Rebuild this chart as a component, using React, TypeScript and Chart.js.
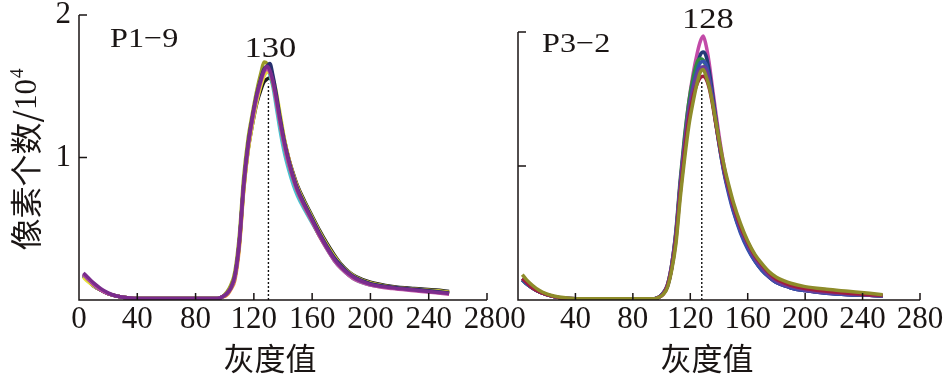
import React, { useEffect, useRef } from 'react';
import { Chart, registerables } from 'chart.js';

Chart.register(...registerables);

// Gray levels (x) sampled from the histograms
const GRAY = [3, 6, 10, 15, 20, 25, 30, 40, 60, 80, 95, 98, 101, 104, 107, 110, 113, 116, 119, 122, 125, 127, 129, 131, 133, 135, 138, 141, 144, 147, 150, 155, 160, 165, 170, 175, 180, 185, 190, 200, 215, 230, 245, 254];

const X_TICK_VALUES = [40, 80, 120, 160, 200, 240, 280];
const Y_TICK_VALUES = [1, 2];

// Panel P1-9 (pixel counts / 10^4)
const P19_PURPLE = [0.19, 0.16, 0.12, 0.08, 0.05, 0.03, 0.02, 0.01, 0.01, 0.01, 0.01, 0.02, 0.04, 0.08, 0.17, 0.40, 0.80, 1.08, 1.28, 1.44, 1.55, 1.61, 1.64, 1.61, 1.54, 1.44, 1.26, 1.10, 0.97, 0.86, 0.77, 0.66, 0.56, 0.46, 0.37, 0.29, 0.23, 0.185, 0.15, 0.11, 0.085, 0.07, 0.055, 0.045];
const P19_MAGENTA = [0.18, 0.15, 0.11, 0.07, 0.045, 0.03, 0.02, 0.01, 0.01, 0.01, 0.01, 0.02, 0.04, 0.08, 0.16, 0.40, 0.80, 1.07, 1.26, 1.42, 1.54, 1.60, 1.62, 1.60, 1.53, 1.42, 1.24, 1.08, 0.95, 0.85, 0.76, 0.65, 0.55, 0.45, 0.36, 0.28, 0.22, 0.175, 0.14, 0.105, 0.08, 0.065, 0.05, 0.04];
const P19_OLIVE = [0.18, 0.15, 0.11, 0.07, 0.045, 0.03, 0.02, 0.01, 0.01, 0.01, 0.01, 0.02, 0.05, 0.10, 0.20, 0.45, 0.86, 1.13, 1.31, 1.47, 1.60, 1.67, 1.66, 1.60, 1.52, 1.42, 1.24, 1.08, 0.95, 0.85, 0.76, 0.65, 0.55, 0.45, 0.37, 0.29, 0.23, 0.185, 0.15, 0.115, 0.09, 0.075, 0.06, 0.05];
const P19_NAVY = [0.18, 0.15, 0.11, 0.07, 0.045, 0.03, 0.02, 0.01, 0.01, 0.01, 0.01, 0.02, 0.04, 0.08, 0.17, 0.41, 0.81, 1.09, 1.28, 1.44, 1.56, 1.62, 1.64, 1.66, 1.58, 1.47, 1.28, 1.11, 0.98, 0.87, 0.78, 0.67, 0.57, 0.47, 0.38, 0.30, 0.24, 0.19, 0.155, 0.115, 0.09, 0.075, 0.06, 0.05];
const P19_BLACK = [0.17, 0.14, 0.10, 0.07, 0.045, 0.03, 0.02, 0.01, 0.01, 0.01, 0.01, 0.02, 0.04, 0.08, 0.16, 0.39, 0.78, 1.05, 1.23, 1.38, 1.48, 1.53, 1.55, 1.56, 1.52, 1.44, 1.28, 1.12, 0.99, 0.89, 0.80, 0.69, 0.59, 0.49, 0.40, 0.32, 0.25, 0.20, 0.165, 0.125, 0.095, 0.08, 0.07, 0.06];
const P19_CYAN = [0.17, 0.14, 0.10, 0.07, 0.045, 0.03, 0.02, 0.01, 0.01, 0.01, 0.01, 0.02, 0.04, 0.08, 0.17, 0.41, 0.80, 1.07, 1.26, 1.42, 1.54, 1.60, 1.62, 1.58, 1.50, 1.38, 1.19, 1.03, 0.91, 0.81, 0.73, 0.63, 0.54, 0.45, 0.36, 0.28, 0.22, 0.175, 0.14, 0.105, 0.085, 0.07, 0.06, 0.05];
const P19_YELLOW = [0.16, 0.13, 0.10, 0.07, 0.045, 0.03, 0.02, 0.01, 0.01, 0.01, 0.01, 0.02, 0.04, 0.08, 0.16, 0.38, 0.77, 1.04, 1.23, 1.39, 1.51, 1.57, 1.60, 1.60, 1.56, 1.48, 1.31, 1.13, 0.99, 0.88, 0.79, 0.68, 0.58, 0.48, 0.39, 0.31, 0.245, 0.195, 0.16, 0.12, 0.09, 0.075, 0.065, 0.055];
const P19_RED = [0.17, 0.14, 0.10, 0.07, 0.045, 0.03, 0.02, 0.01, 0.01, 0.01, 0.01, 0.02, 0.04, 0.08, 0.17, 0.40, 0.80, 1.08, 1.27, 1.43, 1.55, 1.61, 1.63, 1.61, 1.55, 1.45, 1.28, 1.12, 0.99, 0.88, 0.79, 0.67, 0.57, 0.47, 0.38, 0.30, 0.24, 0.19, 0.155, 0.115, 0.09, 0.075, 0.06, 0.05];
const P19_ORANGE = [0.17, 0.14, 0.10, 0.07, 0.045, 0.03, 0.02, 0.01, 0.01, 0.01, 0.01, 0.02, 0.03, 0.07, 0.14, 0.36, 0.76, 1.05, 1.25, 1.41, 1.53, 1.59, 1.62, 1.60, 1.53, 1.42, 1.24, 1.08, 0.95, 0.85, 0.76, 0.65, 0.55, 0.45, 0.36, 0.28, 0.22, 0.175, 0.14, 0.105, 0.085, 0.07, 0.055, 0.045];

// Panel P3-2
const P32_OLIVE = [0.19, 0.15, 0.11, 0.07, 0.045, 0.03, 0.02, 0.01, 0.01, 0.01, 0.01, 0.02, 0.04, 0.09, 0.22, 0.42, 0.76, 1.05, 1.30, 1.48, 1.63, 1.70, 1.72, 1.67, 1.60, 1.50, 1.32, 1.14, 0.98, 0.85, 0.73, 0.57, 0.44, 0.34, 0.27, 0.21, 0.17, 0.145, 0.125, 0.10, 0.08, 0.065, 0.05, 0.04];
const P32_CRIMSON = [0.16, 0.13, 0.09, 0.06, 0.04, 0.025, 0.015, 0.01, 0.01, 0.01, 0.01, 0.02, 0.04, 0.10, 0.23, 0.45, 0.80, 1.10, 1.35, 1.52, 1.62, 1.66, 1.67, 1.65, 1.59, 1.49, 1.30, 1.12, 0.96, 0.83, 0.71, 0.55, 0.43, 0.33, 0.26, 0.20, 0.155, 0.13, 0.11, 0.085, 0.065, 0.05, 0.04, 0.035];
const P32_PURPLE = [0.16, 0.13, 0.09, 0.06, 0.04, 0.025, 0.015, 0.01, 0.01, 0.01, 0.01, 0.02, 0.05, 0.11, 0.26, 0.50, 0.87, 1.17, 1.42, 1.58, 1.69, 1.73, 1.74, 1.72, 1.64, 1.52, 1.31, 1.11, 0.94, 0.81, 0.69, 0.53, 0.41, 0.31, 0.24, 0.18, 0.14, 0.115, 0.10, 0.075, 0.055, 0.045, 0.035, 0.03];
const P32_BLUE = [0.15, 0.12, 0.09, 0.06, 0.04, 0.025, 0.015, 0.01, 0.01, 0.01, 0.01, 0.02, 0.05, 0.10, 0.24, 0.48, 0.85, 1.16, 1.42, 1.60, 1.72, 1.77, 1.78, 1.76, 1.67, 1.54, 1.31, 1.10, 0.92, 0.78, 0.66, 0.50, 0.38, 0.29, 0.22, 0.17, 0.13, 0.11, 0.09, 0.07, 0.05, 0.04, 0.035, 0.03];
const P32_GREEN = [0.15, 0.12, 0.09, 0.06, 0.04, 0.025, 0.015, 0.01, 0.01, 0.01, 0.01, 0.02, 0.05, 0.11, 0.26, 0.52, 0.90, 1.22, 1.48, 1.66, 1.78, 1.80, 1.79, 1.74, 1.65, 1.52, 1.30, 1.10, 0.93, 0.80, 0.68, 0.52, 0.40, 0.31, 0.24, 0.18, 0.14, 0.115, 0.10, 0.075, 0.055, 0.045, 0.035, 0.03];
const P32_NAVY = [0.15, 0.12, 0.09, 0.06, 0.04, 0.025, 0.015, 0.01, 0.01, 0.01, 0.01, 0.02, 0.05, 0.10, 0.24, 0.48, 0.85, 1.17, 1.44, 1.63, 1.76, 1.83, 1.85, 1.82, 1.72, 1.58, 1.34, 1.12, 0.94, 0.80, 0.67, 0.51, 0.39, 0.29, 0.22, 0.17, 0.13, 0.11, 0.09, 0.07, 0.05, 0.04, 0.035, 0.03];
const P32_MAGENTA = [0.16, 0.13, 0.09, 0.06, 0.04, 0.025, 0.015, 0.01, 0.01, 0.01, 0.01, 0.02, 0.05, 0.11, 0.26, 0.50, 0.87, 1.20, 1.48, 1.69, 1.85, 1.93, 1.97, 1.90, 1.78, 1.62, 1.38, 1.16, 0.97, 0.82, 0.69, 0.52, 0.40, 0.30, 0.23, 0.17, 0.13, 0.11, 0.09, 0.07, 0.05, 0.04, 0.035, 0.03];

// first entry is drawn on top
const LEFT_SERIES = [
  { data: P19_PURPLE, color: '#7a2c8c' },
  { data: P19_MAGENTA, color: '#c052a6' },
  { data: P19_NAVY, color: '#26306e' },
  { data: P19_OLIVE, color: '#9a9a26' },
  { data: P19_YELLOW, color: '#e6dc3a' },
  { data: P19_CYAN, color: '#48bfd0' },
  { data: P19_RED, color: '#d0232e' },
  { data: P19_BLACK, color: '#1a1a1a' },
  { data: P19_ORANGE, color: '#ef8a3a' },
];
const RIGHT_SERIES = [
  { data: P32_OLIVE, color: '#8e8c2a' },
  { data: P32_CRIMSON, color: '#a11c40' },
  { data: P32_PURPLE, color: '#6c3c9c' },
  { data: P32_BLUE, color: '#3552ae' },
  { data: P32_GREEN, color: '#2f8a42' },
  { data: P32_NAVY, color: '#233a78' },
  { data: P32_MAGENTA, color: '#c24aa8' },
];

const LEFT_PEAK = 130;
const LEFT_MARK_TOP = 1.52;
const RIGHT_PEAK = 128;
const RIGHT_MARK_TOP = 1.63;

const SERIF = "'Liberation Serif', 'Times New Roman', serif";
const CJK = "'Noto Sans CJK SC', sans-serif";
const INK = '#1a1514';
const STRETCH = 1.15;

type PanelOpts = {
  name: string;
  nameDx: number;
  nameY: number;
  peak: number;
  markTop: number;
  peakDx: number;
  peakY: number;
  titleDx: number;
  yTitle: boolean;
};

function stretchedText(ctx: CanvasRenderingContext2D, text: string, x: number, y: number, font: string, align: CanvasTextAlign) {
  ctx.save();
  ctx.font = font;
  ctx.textAlign = align;
  ctx.textBaseline = 'alphabetic';
  ctx.translate(x, y);
  ctx.scale(STRETCH, 1);
  ctx.fillText(text, 0, 0);
  ctx.restore();
}

function decorPlugin(o: PanelOpts) {
  return {
    id: 'decor',
    afterDatasetsDraw(chart: any) {
      const ctx = chart.ctx as CanvasRenderingContext2D;
      const xs = chart.scales.x;
      const ys = chart.scales.y;
      const x0 = xs.getPixelForValue(0);
      const y0 = ys.getPixelForValue(0);
      const yTop = ys.getPixelForValue(2);
      const xEnd = xs.getPixelForValue(280);
      ctx.save();
      // dotted peak marker
      const px = xs.getPixelForValue(o.peak);
      ctx.strokeStyle = '#111';
      ctx.lineWidth = 1.4;
      ctx.setLineDash([2, 2]);
      ctx.beginPath();
      ctx.moveTo(px, y0);
      ctx.lineTo(px, ys.getPixelForValue(o.markTop));
      ctx.stroke();
      ctx.setLineDash([]);
      // axes with inward ticks
      ctx.strokeStyle = INK;
      ctx.lineWidth = 1.5;
      ctx.beginPath();
      ctx.moveTo(x0, yTop);
      ctx.lineTo(x0, y0);
      ctx.lineTo(xEnd, y0);
      for (const v of Y_TICK_VALUES) {
        const py = ys.getPixelForValue(v);
        ctx.moveTo(x0, py);
        ctx.lineTo(x0 + 8, py);
      }
      for (const v of X_TICK_VALUES) {
        const tx = xs.getPixelForValue(v);
        ctx.moveTo(tx, y0);
        ctx.lineTo(tx, y0 - 7);
      }
      ctx.stroke();
      // texts
      ctx.fillStyle = INK;
      stretchedText(ctx, o.name, x0 + o.nameDx, o.nameY, `28px ${SERIF}`, 'left');
      stretchedText(ctx, String(o.peak), px + o.peakDx, o.peakY, `30px ${SERIF}`, 'center');
      // x title
      ctx.font = `31px ${CJK}`;
      ctx.textAlign = 'center';
      ctx.textBaseline = 'middle';
      ctx.fillText('灰度值', (x0 + xEnd) / 2 + o.titleDx, 358);
      if (o.yTitle) {
        ctx.save();
        ctx.translate(26, 160);
        ctx.rotate(-Math.PI / 2);
        ctx.textAlign = 'left';
        ctx.textBaseline = 'middle';
        const p1 = '像素个数/';
        const p2 = '10';
        const p3 = '4';
        ctx.font = `32px ${CJK}`;
        const w1 = ctx.measureText(p1).width;
        ctx.font = `31px ${SERIF}`;
        const w2 = ctx.measureText(p2).width;
        ctx.font = `19px ${SERIF}`;
        const w3 = ctx.measureText(p3).width;
        const start = -(w1 + w2 + w3) / 2;
        ctx.font = `32px ${CJK}`;
        ctx.fillText(p1, start, 0);
        ctx.font = `31px ${SERIF}`;
        ctx.fillText(p2, start + w1, 2);
        ctx.font = `19px ${SERIF}`;
        ctx.fillText(p3, start + w1 + w2 + 1, -8);
        ctx.restore();
      }
      ctx.restore();
    },
  };
}

function buildConfig(series: { data: number[]; color: string }[], opts: PanelOpts, yWidth: number, padRight: number, padTop: number, showYLabels: boolean) {
  return {
    type: 'line' as const,
    data: {
      datasets: series.map((s) => ({
        data: GRAY.map((g, i) => ({ x: g, y: s.data[i] })),
        borderColor: s.color,
        backgroundColor: s.color,
        borderWidth: 3.5,
        pointRadius: 0,
        fill: false,
        cubicInterpolationMode: 'monotone' as const,
      })),
    },
    options: {
      responsive: false,
      animation: false as const,
      devicePixelRatio: 1,
      layout: { padding: { left: 0, right: padRight, top: padTop, bottom: 0 } },
      plugins: { legend: { display: false }, tooltip: { enabled: false } },
      scales: {
        x: {
          type: 'linear' as const,
          min: 0,
          max: 280,
          border: { display: false },
          grid: { display: false, drawTicks: false },
          ticks: { stepSize: 40, color: INK, padding: 1, font: { family: SERIF, size: 31 }, maxRotation: 0, autoSkip: false },
          afterFit: (s: any) => {
            s.height = 76;
            s.paddingLeft = 0;
            s.paddingRight = 0;
          },
        },
        y: {
          type: 'linear' as const,
          min: 0,
          max: 2,
          border: { display: false },
          grid: { display: false, drawTicks: false },
          ticks: {
            display: showYLabels,
            stepSize: 1,
            color: INK,
            padding: 8,
            font: { family: SERIF, size: 31 },
            callback: (v: any) => (v === 0 ? '' : String(v)),
          },
          afterFit: (s: any) => {
            s.width = yWidth;
            s.paddingTop = 0;
            s.paddingBottom = 0;
          },
        },
      },
    },
    plugins: [decorPlugin(opts)],
  };
}

export default function App() {
  const leftRef = useRef<HTMLCanvasElement>(null);
  const rightRef = useRef<HTMLCanvasElement>(null);

  useEffect(() => {
    const left = new Chart(
      leftRef.current as HTMLCanvasElement,
      buildConfig(
        LEFT_SERIES,
        { name: 'P1−9', nameDx: 31, nameY: 47, peak: LEFT_PEAK, markTop: LEFT_MARK_TOP, peakDx: 2, peakY: 57, titleDx: -13, yTitle: true },
        79, 33, 15, true,
      ) as any,
    );
    const right = new Chart(
      rightRef.current as HTMLCanvasElement,
      buildConfig(
        RIGHT_SERIES,
        { name: 'P3−2', nameDx: 24, nameY: 52, peak: RIGHT_PEAK, markTop: RIGHT_MARK_TOP, peakDx: 6, peakY: 28, titleDx: -12, yTitle: false },
        48, 28, 32, false,
      ) as any,
    );
    return () => {
      left.destroy();
      right.destroy();
    };
  }, []);

  return (
    <div style={{ position: 'fixed', left: 0, top: 0, width: 948, height: 376, background: '#fff' }}>
      <canvas ref={leftRef} width={520} height={376} style={{ position: 'absolute', left: 0, top: 0 }} />
      <canvas ref={rightRef} width={478} height={376} style={{ position: 'absolute', left: 470, top: 0 }} />
    </div>
  );
}
